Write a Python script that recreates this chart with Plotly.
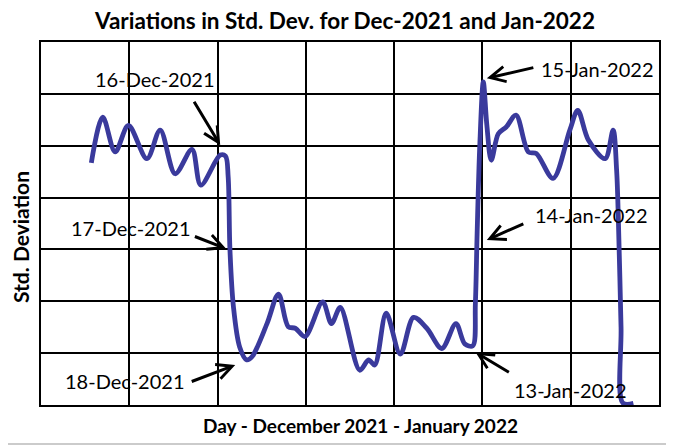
import plotly.graph_objects as go

# Data (x in grid units across the Dec-2021 / Jan-2022 span, y in grid units of std. dev.)
day_pos = [0.57, 0.70, 0.84, 0.99, 1.20, 1.35, 1.52, 1.71, 1.81, 2.03, 2.09, 2.12, 2.14,
           2.18, 2.25, 2.33, 2.39, 2.56, 2.69, 2.80, 2.88, 2.99, 3.19, 3.29, 3.39, 3.61,
           3.71, 3.78, 3.91, 4.07, 4.22, 4.37, 4.54, 4.70, 4.80, 4.89, 4.92, 4.94, 4.97,
           5.01, 5.05, 5.10, 5.18, 5.27, 5.38, 5.52, 5.61, 5.80, 5.99, 6.08, 6.20, 6.39,
           6.48, 6.52, 6.54, 6.57, 6.59, 6.71]
std_dev = [4.67, 5.55, 4.88, 5.39, 4.75, 5.30, 4.46, 4.93, 4.24, 4.82, 4.80, 4.40, 3.00,
           1.89, 1.12, 0.87, 0.93, 1.57, 2.14, 1.51, 1.48, 1.32, 1.99, 1.57, 1.88, 0.67,
           0.87, 0.77, 1.77, 0.98, 1.69, 1.48, 1.09, 1.57, 1.18, 1.14, 1.96, 3.31, 5.00,
           6.23, 5.40, 4.72, 5.23, 5.36, 5.59, 4.88, 4.85, 4.37, 5.30, 5.68, 5.11, 4.75,
           5.30, 4.53, 3.56, 1.50, 0.04, 0.03]

# Annotated dates: label, arrow tip (grid units), arrow tail offset (px), label centre (grid units)
ann_labels = ["16-Dec-2021", "17-Dec-2021", "18-Dec-2021",
              "15-Jan-2022", "14-Jan-2022", "13-Jan-2022"]
ann_tip_x = [2.03, 2.10, 2.20, 5.05, 5.05, 4.92]
ann_tip_y = [5.01, 3.01, 0.77, 6.30, 3.18, 1.02]
ann_tail_dx = [-27, -33, -45, 48, 38, 35]
ann_tail_dy = [-45, -13, 17, -11, -17, 21]
ann_text_x = [1.29, 1.01, 0.95, 6.30, 6.24, 6.00]
ann_text_y = [6.28, 3.41, 0.46, 6.47, 3.66, 0.29]

FONT = "Lato"
LINE_COLOR = "#3A3A9C"

# page has an 8px body margin: figure is placed at (8, 8)
OFF = 8
W, H = 674 - OFF, 446 - OFF
PL, PR, PT, PB = 41, 659, 42, 405   # plot box in page pixels
ML, MT = PL - OFF, PT - OFF
MR, MB = (OFF + W) - PR, (OFF + H) - PB
PW, PH = PR - PL, PB - PT


def px_to_paper(px, py):
    return (px - PL) / PW, (PB - py) / PH


fig = go.Figure()
fig.add_trace(go.Scatter(
    x=day_pos, y=std_dev, mode="lines",
    line=dict(color=LINE_COLOR, width=4.8, shape="spline", smoothing=0.9),
    hoverinfo="skip", showlegend=False,
))

annotations = []
for lab, tx, ty, dx, dy, lx, ly in zip(ann_labels, ann_tip_x, ann_tip_y, ann_tail_dx,
                                        ann_tail_dy, ann_text_x, ann_text_y):
    annotations.append(dict(
        x=tx, y=ty, xref="x", yref="y", text="", showarrow=True,
        ax=dx, ay=dy, arrowhead=5, arrowsize=1.0, arrowwidth=3, arrowcolor="black",
        standoff=0, startstandoff=0,
    ))
    annotations.append(dict(
        x=lx, y=ly, xref="x", yref="y", text=lab, showarrow=False,
        font=dict(family=FONT, size=20, color="black"),
        xanchor="center", yanchor="middle",
    ))

# Axis titles
xl = px_to_paper(360, 425)
annotations.append(dict(
    x=xl[0], y=xl[1], xref="paper", yref="paper",
    text="<b>Day - December 2021 - January 2022</b>", showarrow=False,
    font=dict(family=FONT, size=19, color="black"), xanchor="center", yanchor="middle",
))
yl = px_to_paper(20, 237)
annotations.append(dict(
    x=yl[0], y=yl[1], xref="paper", yref="paper",
    text="<b>Std. Deviation</b>", showarrow=False, textangle=-90,
    font=dict(family=FONT, size=21, color="black"), xanchor="center", yanchor="middle",
))

axis_common = dict(
    range=[0, 7], dtick=1, tick0=0, showgrid=True, gridcolor="black", gridwidth=2,
    showline=True, linecolor="black", linewidth=2, mirror=True,
    showticklabels=False, ticks="", zeroline=False, fixedrange=True,
)

bx0, by0 = px_to_paper(OFF, 0)
bx1, by1 = px_to_paper(672.5, 444)

fig.update_layout(
    width=W, height=H,
    margin=dict(l=ML, r=MR, t=MT, b=MB, pad=0),
    paper_bgcolor="white", plot_bgcolor="white",
    title=dict(
        text="<b>Variations in Std. Dev. for Dec-2021 and Jan-2022</b>",
        x=(345 - OFF) / W, xref="container", xanchor="center",
        y=1 - (21.5 - OFF) / H, yref="container", yanchor="middle",
        font=dict(family=FONT, size=22.5, color="black"),
    ),
    xaxis=axis_common, yaxis=axis_common,
    annotations=annotations,
    shapes=[dict(
        type="path", xref="paper", yref="paper",
        path="M %f,%f L %f,%f L %f,%f" % (bx0, by1, bx1, by1, bx1, by0),
        line=dict(color="#BBBBBB", width=1.5), layer="above",
    )],
)

fig.write_html("out.html")
